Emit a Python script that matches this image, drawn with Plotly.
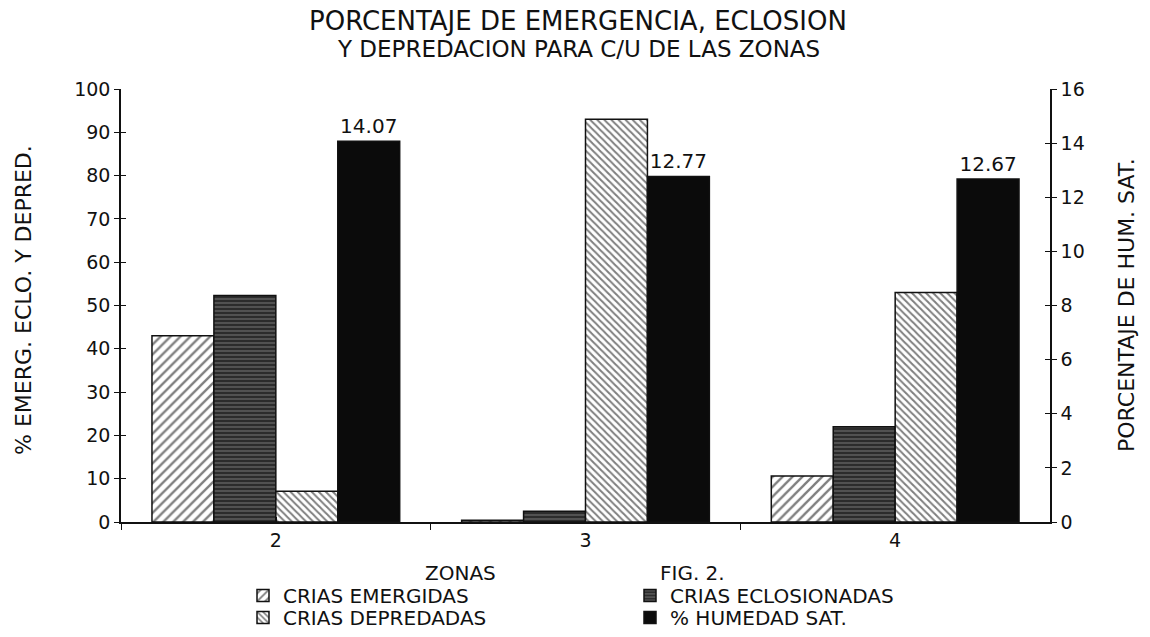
import plotly.graph_objects as go

# Zones sampled
zonas = ["2", "3", "4"]

# Percent values per zone (left axis)
crias_emergidas = [43.0, 0.4, 10.6]
crias_eclosionadas = [52.3, 2.5, 22.0]
crias_depredadas = [7.1, 93.0, 53.0]

# Saturation humidity per zone (right axis)
humedad_sat = [14.07, 12.77, 12.67]

FONT = "DejaVu Sans"
INK = "#111111"
BAR_W = 0.2

# Plot-area geometry in pixels (used to place the paper-referenced texts)
PLOT_LEFT, PLOT_RIGHT, PLOT_TOP, PLOT_BOTTOM = 121, 1050, 89, 522


def px_x(px):
    return (px - PLOT_LEFT) / (PLOT_RIGHT - PLOT_LEFT)


def px_y(py):
    return (PLOT_BOTTOM - py) / (PLOT_BOTTOM - PLOT_TOP)


fig = go.Figure()

edge = dict(color=INK, width=1.5)

fig.add_trace(go.Bar(
    x=zonas, y=crias_emergidas, name="CRIAS EMERGIDAS",
    width=BAR_W, offset=-0.4, legend="legend", showlegend=True,
    marker=dict(color="white", line=edge,
                pattern=dict(shape="/", fgcolor="#000000", bgcolor="white",
                             size=7, solidity=0.33)),
))
fig.add_trace(go.Bar(
    x=zonas, y=crias_eclosionadas, name="CRIAS ECLOSIONADAS",
    width=BAR_W, offset=-0.2, legend="legend2", showlegend=True,
    marker=dict(color="#333333", line=edge,
                pattern=dict(shape="-", fgcolor="#a8a8a8", bgcolor="#2c2c2c",
                             size=4, solidity=0.3)),
))
fig.add_trace(go.Bar(
    x=zonas, y=crias_depredadas, name="CRIAS DEPREDADAS",
    width=BAR_W, offset=0.0, legend="legend3", showlegend=True,
    marker=dict(color="white", line=edge,
                pattern=dict(shape="\\", fgcolor="#000000", bgcolor="white",
                             size=5, solidity=0.4)),
))
fig.add_trace(go.Bar(
    x=zonas, y=humedad_sat, name="% HUMEDAD SAT.",
    width=BAR_W, offset=0.2, yaxis="y2", legend="legend4", showlegend=True,
    marker=dict(color="#0b0b0b", line=edge),
    texttemplate="%{y:.2f}", textposition="outside",
    textfont=dict(family=FONT, size=20, color=INK),
    cliponaxis=False,
))

axis_font = dict(family=FONT, size=19, color=INK)
legend_font = dict(family=FONT, size=20, color=INK)


def cross_ticks(values, eps):
    # inner half of the "+" tick marks, drawn as minor ticks just beside the majors
    return dict(tickmode="array", tickvals=[v + eps for v in values],
                ticks="inside", ticklen=5, tickcolor=INK, tickwidth=1.2,
                showgrid=False)


def legend_box(x_px, row_center_px):
    return dict(
        visible=True,
        x=px_x(x_px), xanchor="left", y=px_y(row_center_px - 19), yanchor="top",
        orientation="v", font=legend_font, bgcolor="rgba(0,0,0,0)",
        itemwidth=30,
    )


def label(text, x_px, y_px, size, angle=0):
    return dict(text=text, xref="paper", yref="paper",
                x=px_x(x_px), y=px_y(y_px), xanchor="center", yanchor="middle",
                textangle=angle, showarrow=False,
                font=dict(family=FONT, size=size, color=INK))


fig.update_layout(
    width=1150, height=637,
    margin=dict(l=PLOT_LEFT, r=1150 - PLOT_RIGHT, t=PLOT_TOP, b=637 - PLOT_BOTTOM,
                autoexpand=False),
    paper_bgcolor="white", plot_bgcolor="white",
    font=dict(family=FONT, color=INK),
    barmode="overlay",
    showlegend=True,
    xaxis=dict(
        type="category", range=[-0.5, 2.5],
        showline=True, linecolor=INK, linewidth=1.5,
        ticks="outside", tickson="boundaries", ticklen=6, tickcolor=INK,
        tickwidth=1.2, tickfont=axis_font, showgrid=False, zeroline=False,
        minor=cross_ticks([0.5, 1.5], 0.001),
    ),
    yaxis=dict(
        range=[0, 100], dtick=10,
        showline=True, linecolor=INK, linewidth=1.5,
        ticks="outside", ticklen=5, tickcolor=INK, tickwidth=1.2,
        tickfont=axis_font, showgrid=False, zeroline=False,
        minor=cross_ticks(range(10, 101, 10), 0.01),
    ),
    yaxis2=dict(
        range=[0, 16], dtick=2, overlaying="y", side="right", anchor="x",
        showline=True, linecolor=INK, linewidth=1.5,
        ticks="outside", ticklen=5, tickcolor=INK, tickwidth=1.2,
        tickfont=axis_font, showgrid=False, zeroline=False,
        minor=cross_ticks(range(2, 17, 2), 0.002),
    ),
    legend=legend_box(243, 595),
    legend2=legend_box(630, 595),
    legend3=legend_box(243, 617),
    legend4=legend_box(630, 617),
    annotations=[
        label("PORCENTAJE DE EMERGENCIA, ECLOSION", 578, 21, 26),
        label("Y DEPREDACION PARA C/U DE LAS ZONAS", 578, 49, 23),
        label("% EMERG. ECLO. Y DEPRED.", 23, 300, 22, -90),
        label("PORCENTAJE DE HUM. SAT.", 1126, 305, 22, -90),
        label("ZONAS", 460, 573, 20),
        label("FIG. 2.", 692, 573, 20),
    ],
)

fig.write_html("out.html")
